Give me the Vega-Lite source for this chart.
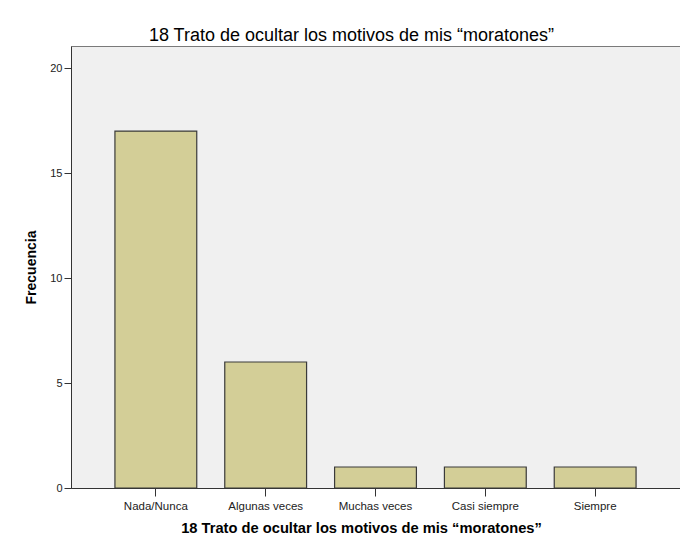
{
  "$schema": "https://vega.github.io/schema/vega-lite/v6.json",
  "width": 609,
  "height": 442,
  "autosize": {"type": "none"},
  "padding": {"left": 71, "top": 46, "right": 0, "bottom": 62},
  "background": "white",
  "title": {
    "text": "18 Trato de ocultar los motivos de mis “moratones”",
    "font": "Liberation Sans",
    "fontSize": 18,
    "fontWeight": "normal",
    "color": "#000000",
    "offset": 1,
    "dx": -24
  },
  "config": {
    "view": {"fill": "#f0f0f0", "stroke": "#7a7a7a", "strokeWidth": 1},
    "font": "Liberation Sans"
  },
  "data": {
    "values": [
      {"categoria": "Nada/Nunca", "frecuencia": 17},
      {"categoria": "Algunas veces", "frecuencia": 6},
      {"categoria": "Muchas veces", "frecuencia": 1},
      {"categoria": "Casi siempre", "frecuencia": 1},
      {"categoria": "Siempre", "frecuencia": 1}
    ]
  },
  "mark": {"type": "bar", "fill": "#d3ce97", "stroke": "#3a3a3a", "strokeWidth": 1.2},
  "encoding": {
    "x": {
      "field": "categoria",
      "type": "nominal",
      "sort": null,
      "scale": {"paddingInner": 0.255, "paddingOuter": 0.4},
      "axis": {
        "title": "18 Trato de ocultar los motivos de mis “moratones”",
        "titleFont": "Liberation Sans",
        "titleFontSize": 14.7,
        "titleFontWeight": "bold",
        "titleColor": "#000000",
        "titlePadding": 9,
        "titleX": 290,
        "labelAngle": 0,
        "labelFont": "Liberation Sans",
        "labelFontSize": 11.5,
        "labelColor": "#222222",
        "labelPadding": 4,
        "tickSize": 8,
        "tickColor": "#333333",
        "domainColor": "#333333",
        "grid": false
      }
    },
    "y": {
      "field": "frecuencia",
      "type": "quantitative",
      "scale": {"domain": [0, 21.05], "nice": false},
      "axis": {
        "title": "Frecuencia",
        "titleFont": "Liberation Sans",
        "titleFontSize": 14,
        "titleFontWeight": "bold",
        "titleColor": "#000000",
        "titlePadding": 11,
        "values": [0, 5, 10, 15, 20],
        "labelFont": "Liberation Sans",
        "labelFontSize": 11,
        "labelColor": "#222222",
        "labelPadding": 2,
        "tickSize": 7,
        "tickColor": "#333333",
        "domainColor": "#333333",
        "grid": false
      }
    }
  }
}
